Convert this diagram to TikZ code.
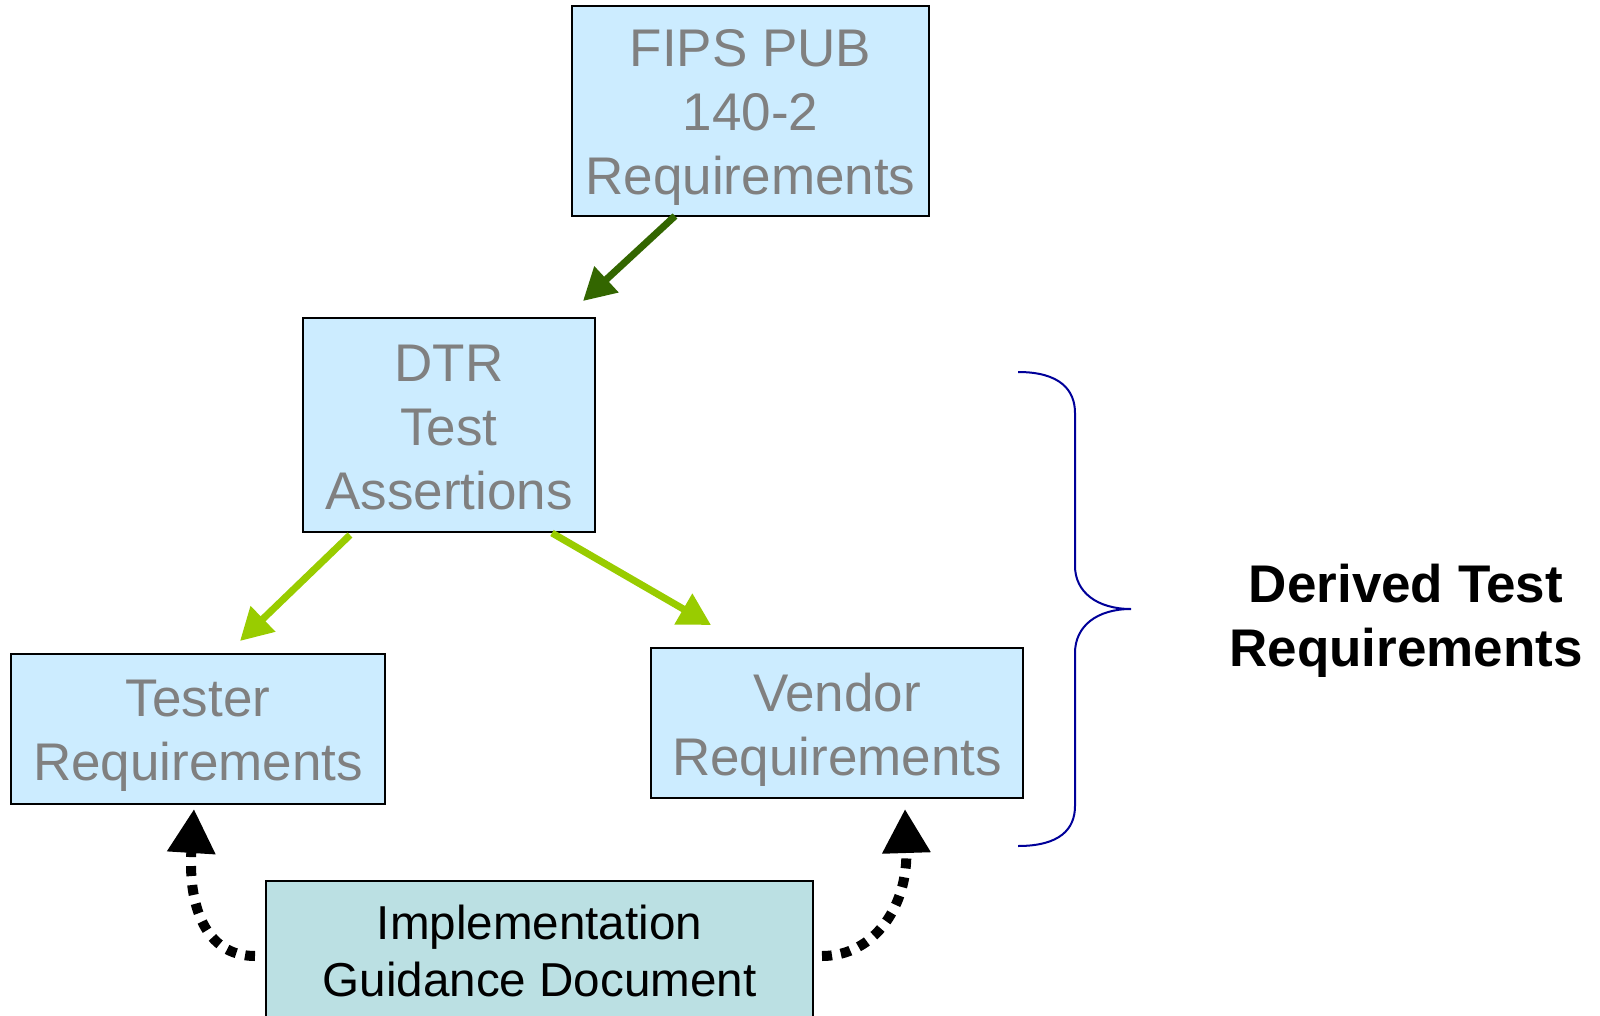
\documentclass[tikz,border=0pt]{standalone}
\usepackage{fontspec}
\setmainfont{Liberation Sans}
\usetikzlibrary{arrows.meta}
\definecolor{boxblue}{HTML}{CCECFF}
\definecolor{boxteal}{HTML}{BBE0E3}
\definecolor{txtgrey}{HTML}{808080}
\definecolor{dkgreen}{HTML}{336600}
\definecolor{ltgreen}{HTML}{99CC00}
\definecolor{bracenavy}{HTML}{000099}
\begin{document}
\begin{tikzpicture}[x=0.5pt,y=-0.5pt,
  reqbox/.style={draw=black, line width=1pt, fill=boxblue, inner sep=0pt},
  reqtext/.style={inner sep=0pt, align=center, text=txtgrey,
    font=\fontsize{26.5pt}{32pt}\selectfont},
  guidebox/.style={draw=black, line width=1pt, fill=boxteal, inner sep=0pt},
  guidetext/.style={inner sep=0pt, align=center, text=black,
    font=\fontsize{23.8pt}{28.5pt}\selectfont},
  darrow/.style={draw=dkgreen, line width=3.5pt, -{Triangle[length=16pt,width=17pt]}},
  larrow/.style={draw=ltgreen, line width=3.5pt, -{Triangle[length=16pt,width=17pt]}},
  dotarrow/.style={draw=black, line width=5pt, dash pattern=on 5pt off 4.5pt,
    -{Triangle[length=22pt,width=23pt]}},
  bracestyle/.style={draw=bracenavy, line width=1pt}
]
\useasboundingbox (0,0) rectangle (1600,1016);
\clip (0,0) rectangle (1600,1016);
\node[reqbox, minimum width=178.5pt, minimum height=105pt,
  label={[reqtext, yshift=-3pt]center:{FIPS PUB\\140-2\\Requirements}}] (fips) at (750.5,111) {};
\node[reqbox, minimum width=146pt, minimum height=107pt,
  label={[reqtext, yshift=-1.5pt]center:{DTR\\Test\\Assertions}}] (dtr) at (449,425) {};
\node[reqbox, minimum width=187pt, minimum height=75pt,
  label={[reqtext, yshift=-3.5pt]center:{Tester\\Requirements}}] (tester) at (198,729) {};
\node[reqbox, minimum width=186pt, minimum height=75pt,
  label={[reqtext, yshift=-3.5pt]center:{Vendor\\Requirements}}] (vendor) at (837,723) {};
\node[guidebox, minimum width=273.5pt, minimum height=74.5pt,
  label={[guidetext, yshift=2.5pt]center:{Implementation\\Guidance Document}}] (impl) at (539.5,955.5) {};
\node[align=center, font=\bfseries\fontsize{26.5pt}{32pt}\selectfont] (dtrlabel) at (1406,621)
  {Derived Test\\Requirements};
% connectors
\coordinate (a1) at (583,301);
\coordinate (a2) at (240,641);
\coordinate (a3) at (711,625);
\coordinate (t1) at (194,809);
\coordinate (t2) at (905,809);
\draw[darrow] (675,216) -- (a1);
\draw[larrow] (350,535) -- (a2);
\draw[larrow] (552,533) -- (a3);
\draw[dotarrow] (impl.west |- 0,956) ++(-10,0) .. controls (205,956) and (188,905) .. (t1);
\draw[dotarrow] (impl.east |- 0,956) ++(8,0) .. controls (875,956) and (908,905) .. (t2);
% brace
\draw[bracestyle] (1018,372) .. controls (1060,372) and (1075,390) .. (1075,413)
  -- (1075,566) .. controls (1075,592) and (1097,609) .. (1131,609)
  .. controls (1097,609) and (1075,626) .. (1075,653)
  -- (1075,806) .. controls (1075,829) and (1060,846) .. (1018,846);
\end{tikzpicture}
\end{document}
